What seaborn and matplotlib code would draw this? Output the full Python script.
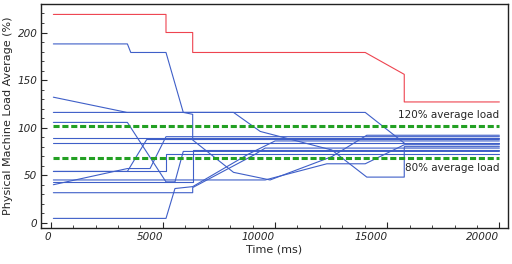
import matplotlib
matplotlib.use("Agg")
import matplotlib.pyplot as plt
from matplotlib.ticker import MultipleLocator
import seaborn as sns
import pandas as pd

# red: the overloaded host
red_time = [120, 5140, 5140, 6330, 6330, 14020, 15760, 15760, 20000]
red_load = [219, 219, 200, 200, 179, 179, 156, 127, 127]

# blue: the other hosts, (time ms, load %) vertices
vm01 = [(120, 188), (3420, 188), (3570, 179), (5140, 179), (5910, 116), (6330, 114),
        (6330, 87), (8150, 53), (9780, 45), (12530, 69.5), (14090, 92), (20000, 92)]
vm02 = [(120, 132), (3400, 116), (14020, 116), (15800, 83), (20000, 83)]
vm03 = [(120, 116), (8150, 116), (9340, 96), (12530, 76.5), (14090, 48), (15760, 48),
        (15760, 80), (20000, 80)]
vm04 = [(120, 105.5), (3420, 105.5), (5140, 43), (5540, 43), (5910, 75), (20000, 75)]
vm05 = [(120, 89.5), (20000, 89.5)]
vm06 = [(120, 84), (20000, 84)]
vm07 = [(120, 54), (3420, 54), (4280, 87.5), (20000, 87.5)]
vm08 = [(120, 40), (3420, 57), (4430, 57), (5140, 90.5), (20000, 90.5)]
vm09 = [(120, 54), (5140, 54), (5140, 72), (20000, 72)]
vm10 = [(120, 45), (9560, 45), (12310, 62), (14020, 62), (15760, 82), (20000, 82)]
vm11 = [(120, 42.5), (6330, 42.5), (6330, 77), (20000, 77)]
vm12 = [(120, 31.6), (6330, 31.6), (6330, 37), (9040, 71), (9560, 78.5), (20000, 78.5)]
vm13 = [(120, 4.6), (5140, 4.6), (5540, 36), (6330, 38), (8800, 72), (10000, 86), (20000, 86)]
blue_vms = [vm01, vm02, vm03, vm04, vm05, vm06, vm07, vm08, vm09, vm10, vm11, vm12, vm13]

avg_load = 85
band_hi = 1.2 * avg_load
band_lo = 0.8 * avg_load

BLUE = "#3f5fc8"
RED = "#ee4450"
GREEN = "#23a023"


def main():
    sns.set_style("ticks")
    plt.rcParams["font.family"] = ["DejaVu Sans"]

    rows = []
    for i, vm in enumerate(blue_vms):
        for t, v in vm:
            rows.append({"vm": i, "time": t, "load": v})
    blue = pd.DataFrame(rows)
    red = pd.DataFrame({"vm": 0, "time": red_time, "load": red_load})

    fig = plt.figure(figsize=(5.12, 2.64), dpi=100)
    ax = fig.add_axes([0.080, 0.136, 0.912, 0.849])

    sns.lineplot(data=blue, x="time", y="load", units="vm", estimator=None, sort=False,
                 color=BLUE, lw=0.8, ax=ax)
    sns.lineplot(data=red, x="time", y="load", units="vm", estimator=None, sort=False,
                 color=RED, lw=0.8, ax=ax)
    for y in (band_hi, band_lo):
        ax.plot([120, 20000], [y, y], color=GREEN, lw=2.2, ls=(0, (2.0, 0.9)),
                dash_capstyle="butt", zorder=3)

    ax.text(20000, 113, "120% average load", ha="right", va="center", fontsize=7.5)
    ax.text(20000, 57.5, "80% average load", ha="right", va="center", fontsize=7.5)

    ax.set_xlim(-433, 20380)
    ax.set_ylim(-5.6, 230)
    ax.xaxis.set_major_locator(MultipleLocator(5000))
    ax.xaxis.set_minor_locator(MultipleLocator(1000))
    ax.yaxis.set_major_locator(MultipleLocator(50))
    ax.yaxis.set_minor_locator(MultipleLocator(10))
    ax.tick_params(which="major", direction="in", length=4.5, width=0.8,
                   labelsize=7.5, pad=2.5)
    ax.tick_params(which="minor", direction="in", length=2.5, width=0.6)
    fig.canvas.draw()
    for lbl in ax.get_xticklabels():
        lbl.set_ha("right")
        lbl.set_style("italic")
    for lbl in ax.get_yticklabels():
        lbl.set_style("italic")

    for sp in ax.spines.values():
        sp.set_visible(True)
        sp.set_linewidth(1.0)
        sp.set_color("#222222")

    ax.set_xlabel("Time (ms)", fontsize=8, labelpad=2)
    ax.set_ylabel("Physical Machine Load Average (%)", fontsize=8, labelpad=3)

    fig.savefig("out.png", dpi=100)


if __name__ == "__main__":
    main()
